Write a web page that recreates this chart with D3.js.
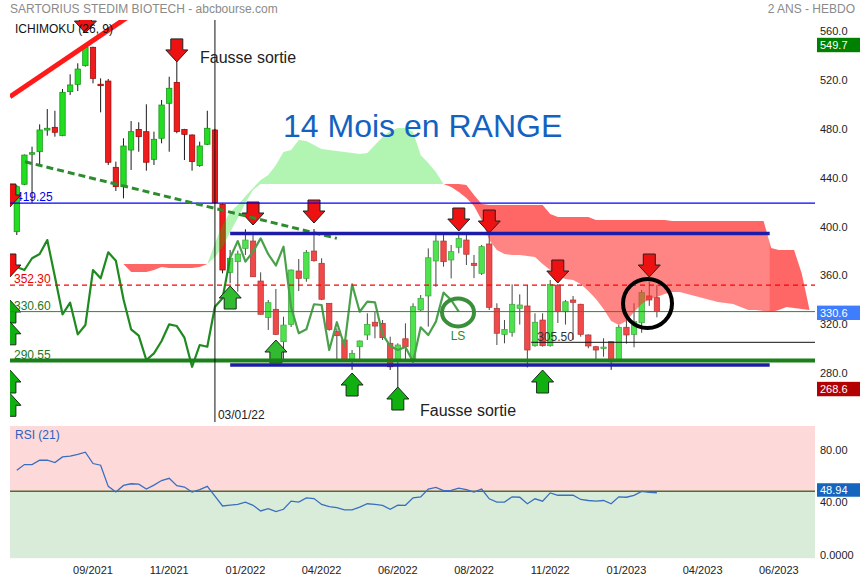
<!DOCTYPE html>
<html><head><meta charset="utf-8">
<script src="https://cdn.jsdelivr.net/npm/d3@7"></script>
<style>body{margin:0;background:#fff;} svg{display:block;font-family:Arial,"Liberation Sans",sans-serif;}</style>
</head><body>
<svg id="c" width="860" height="580"></svg>
<script>
// ---- DATA (weekly candles, index 0 = first visible week) ----
const opens = [395.9,434.7,460,461.3,479,481.3,474.4,510.4,516.4,531.6,
546.7,516.5,519.1,448.6,432.7,462.7,479.6,477.7,455.1,472.3,
500.9,518,479.6,475,449.9,467.4,479.1,418.3,362.7,371.4,
382.3,388.3,355.6,325.9,332.5,306,320.2,363.8,357.8,380.1,
370.1,337.4,314.2,307.4,291,301.9,311.5,321.9,321,304.7,
291,308.4,291,331.9,343.4,372,388.3,372.8,383.2,389.1,
370.1,361.9,385.9,333.3,312,313.7,333.3,335.2,302.7,323.7,
302.7,352.3,330.5,340.1,336.6,311.5,301.9,301.4,306,291,
317.8,312,321.5,343.4,342];
const highs = [434,459,465.4,483.7,496.2,494.8,512.6,524.6,533.6,549.7,
547.2,521.3,520.8,453.2,472.3,486.4,485.4,500.1,477.7,503.6,
522.6,535.5,480,475.5,469.5,494.8,480,419,381,380.4,
397.9,393.2,362.7,340.1,349.1,326.4,365,373.6,380.9,398.1,
374.2,337.5,316.9,307.5,299.2,307,329.2,330.5,323.7,310.1,
304.7,321,337.4,344.2,382.3,393.2,393.2,385.1,393.2,393.2,
376.9,385.1,394.6,337.4,323.7,352.9,344.7,352.3,329.2,329.2,
356.4,353,340.1,343.4,337,312,302.5,308.8,306.2,319.6,
327.7,337.4,348.3,355,352.3];
const lows = [393.2,434,419.4,450.5,474.4,473.6,474,507.7,510.9,531,
517.2,493.5,450.5,429.2,423.2,446.4,461.3,445.8,450.5,468.2,
461.3,476.4,454.5,445.8,449,466.8,419,361.9,353.7,346.9,
376.9,359,328,315.6,311.5,291,318,347.4,355,371.4,
340,315,291,290,283,291,307.4,308.8,307.4,282.9,
268.6,291,290,331,318.3,350.9,367.3,357.8,378.3,368.7,
358,360.5,331.9,303.3,304.7,310.1,320,285,301.9,302,
302,321.3,320,307.4,310.1,300.6,291,293.7,283,290,
304.4,301.4,313.3,335.3,325.9];
const closes = [432.7,458.6,460.5,479.1,480.5,477.2,509.9,515.9,528.9,546.7,
521.3,515.5,452.7,432.7,466,477.7,473.6,452.7,471.5,499.5,
513.2,477.7,475.5,453.2,466,480.5,419.6,364.6,374.2,377.7,
389.1,359.1,328.4,337.9,312,319.6,364.6,357.8,379.1,372.2,
340.7,316.1,310.9,291,296.5,306.6,320.2,318.8,309.3,285.5,
303.3,301.9,334.6,341.5,374.6,388.3,371.4,379.6,390.5,377.5,
368.3,383.7,334.1,312.9,316.1,336.6,336,299.2,321.9,302.7,
352.9,330.5,338.7,338.2,312,302.5,299.2,301.6,289.6,317.8,
311.5,322.4,346.1,340.1,330.6];
const rsi = [66.1,70.5,70.5,73.8,73.8,72,76.3,77,78.3,80,
71.3,70,53.8,49.5,54.5,55.8,55.5,51.8,54.8,58.3,
60,54.3,53.3,49.5,51.3,53.8,46.3,38.8,39.5,40,
41.8,39.3,35,36.8,34.5,36.3,42.5,41.8,45,44.5,
40,38.3,37.5,35.8,35.8,38,40.5,40,39.3,36.3,
39.5,39.3,45,45.8,51.8,53,50.5,50.8,52.5,51.3,
49.5,51.8,44.3,41.8,41.8,45.8,45.5,40.5,44.3,42.5,
48.8,47,47,47,43.8,43,42.5,43,40.5,45.8,
45.5,47,50,49.3,48.94];
// Ichimoku cloud (Senkou spans, already projected), starting at week 14
const senkouStart = 14;
const senkouA = [369.5,363,363,363,364.6,367.1,366.2,366.2,366.2,366.2,
367,369.5,386.7,401.4,412,417.7,425,431.6,438.2,442.3,
450.5,461.1,462.7,470.9,470,466.8,463.5,462.7,461.9,461.1,
460.3,459.4,460.3,466.8,473.3,478.2,480.7,480.7,477.4,458.6,
452.1,444.7,434.9,432.5,428.4,423.5,416.9,405.5,389.1,381,
377.7,376.9,376.9,376.1,375.2,369.5,364.6,359.7,357.3,356.4,
353.2,347.4,340.9,332.7,322.9,319.6,322.9,330.3,336.8,340.9,
342.5,345,346.6,346.6,345,343.4,341.7,340.1,338.4,337.6,
336.8,334.4,331.9,331.9,331.1,330.3,331.9,334.4,333.5,332.7,
331.9];
const senkouB = [369.5,369.5,369.5,369.5,369.5,369.5,369.5,369.5,369.5,369.5,
369.5,369.5,375.2,383.4,395.7,407.1,419.4,430,434.9,434.9,
434.9,434.9,434.9,434.9,434.9,434.9,434.9,434.9,434.9,434.9,
434.9,434.9,434.9,434.9,434.9,434.9,434.9,434.9,434.9,434.9,
434.9,434.9,434.9,434.9,434.9,434.1,425.9,418.6,417.7,417.7,
417.7,417.7,417.7,417.7,417.7,417.7,410.4,407.9,407.9,407.9,
407.9,407.9,405.5,405.5,405.5,405.5,405.5,405.5,405.5,405.5,
405.5,405.5,404.7,404.7,404.7,404.7,404.7,404.7,404.7,404.7,
404.7,404.7,404.7,404.7,404.7,382.6,381,381,381,362,
333];
// Chikou (lagging close), starts one week before the first candle
const chikouStart = -1;
const chikou = [365, 367].concat(closes.slice(27));
// axes
const dateTickWeeks = [10,20,30,40,50,60,70,80,90,100];
const dateTickLabels = ["09/2021","11/2021","01/2022","04/2022","06/2022","08/2022","11/2022","01/2023","04/2023","06/2023"];
const priceTicks = [560,520,480,440,400,360,320,280];
const rsiTicks = [80,40,0];
const rsiTickLabels = ["80.00","40.00","0.0000"];
// annotation values
const sellArrowWeeks = [9,21,31,39,58,62,71,83,-0.9,-0.9];
const sellArrowPrices = [558.4,534.7,401.4,403,396.5,394.9,354,358.9,416.1,358.9];
const buyArrowWeeks = [28,34,44,50,69,-0.9,-0.9,-0.9,-0.9];
const buyArrowPrices = [351.5,307.4,280.4,269,282.9,340.1,322.3,282.9,263.8];
const rangeTop = 394.4, rangeBottom = 286.9, rangeFrom = 28, rangeTo = 98.8;
const markerWeek = 26, markerLabel = "03/01/22";

// ---- SCALES ----
const svg = d3.select("#c");
const L = 10, R = 815, mainT = 20, mainB = 422;
const x = d3.scaleLinear().domain([0, 84]).range([16.8, 656.9]);
const y = d3.scaleLinear().domain([280, 560]).range([373.5, 31]);
const yr = d3.scaleLinear().domain([0, 100]).range([556.7, 426]);

const defs = svg.append("defs");
defs.append("clipPath").attr("id","cm").append("rect").attr("x",L).attr("y",mainT).attr("width",R-L).attr("height",mainB-mainT);
defs.append("clipPath").attr("id","cr").append("rect").attr("x",0).attr("y",420).attr("width",860).attr("height",140);

// header
svg.append("text").attr("x",10).attr("y",13).attr("font-size",12).attr("fill","#8a8a8a").text("SARTORIUS STEDIM BIOTECH - abcbourse.com");
svg.append("text").attr("x",855).attr("y",13).attr("text-anchor","end").attr("font-size",12).attr("fill","#8a8a8a").text("2 ANS - HEBDO");

const main = svg.append("g").attr("clip-path","url(#cm)");

// level labels (under arrows)
const lvl = main.append("g").attr("font-size",12);
lvl.append("text").attr("x",16).attr("y",y(419.25)-2).attr("fill","#0000ee").text("419.25");
lvl.append("text").attr("x",14).attr("y",y(352.30)-2).attr("fill","#ee0000").text("352.30");
lvl.append("text").attr("x",14).attr("y",y(330.60)-2).attr("fill","#227722").text("330.60");
lvl.append("text").attr("x",14).attr("y",y(290.55)-2).attr("fill","#227722").text("290.55");

// candles
const candles = closes.map((c,i)=>({i,o:opens[i],h:highs[i],l:lows[i],c}));
const cg = main.append("g");
cg.selectAll("line").data(candles).join("line")
  .attr("x1",d=>x(d.i)).attr("x2",d=>x(d.i))
  .attr("y1",d=>y(d.h)).attr("y2",d=>y(d.l))
  .attr("stroke","#1a1a1a").attr("stroke-width",1);
cg.selectAll("rect").data(candles).join("rect")
  .attr("x",d=>x(d.i)-2.7).attr("width",5.4)
  .attr("y",d=>y(Math.max(d.o,d.c)))
  .attr("height",d=>Math.max(1.5,Math.abs(y(d.o)-y(d.c))))
  .attr("fill",d=>d.c>=d.o?"#22dd22":"#ee1c1c")
  .attr("stroke",d=>d.c>=d.o?"#0d8f0d":"#9a0000").attr("stroke-width",0.7);

// chikou
main.append("path").datum(chikou.map((v,k)=>[chikouStart+k,v]))
  .attr("d",d3.line().x(d=>x(d[0])).y(d=>y(d[1])))
  .attr("fill","none").attr("stroke","#1f8a1f").attr("stroke-width",2.2).attr("stroke-linejoin","round");

// cloud
const cloud = senkouA.map((a,k)=>({i:senkouStart+k,a,b:senkouB[k]}));
main.append("path").datum(cloud)
  .attr("d",d3.area().x(d=>x(d.i)).y0(d=>y(d.b)).y1(d=>y(Math.max(d.a,d.b))))
  .attr("fill","rgba(0,220,0,0.3)");
main.append("path").datum(cloud)
  .attr("d",d3.area().x(d=>x(d.i)).y0(d=>y(d.a)).y1(d=>y(Math.max(d.a,d.b))))
  .attr("fill","rgba(255,0,0,0.6)");

// range box veil
main.append("rect").attr("x",x(rangeFrom)).attr("width",x(rangeTo)-x(rangeFrom))
  .attr("y",y(rangeTop)).attr("height",y(rangeBottom)-y(rangeTop))
  .attr("fill","rgba(255,255,255,0.2)");

// arrows
function arrowPath(px,py,down){
  const s = down ? -1 : 1;
  const p = [[px,py],[px+11,py+12*s],[px+6,py+12*s],[px+6,py+23*s],[px-6,py+23*s],[px-6,py+12*s],[px-11,py+12*s]];
  return "M"+p.map(q=>q[0].toFixed(1)+","+q[1].toFixed(1)).join("L")+"Z";
}
const ag = main.append("g");
ag.selectAll("path.sell").data(sellArrowWeeks.map((w,k)=>[w,sellArrowPrices[k]])).join("path")
  .attr("class","sell").attr("d",d=>arrowPath(x(d[0]),y(d[1]),true))
  .attr("fill","#ee1111").attr("stroke","#222").attr("stroke-width",1);
ag.selectAll("path.buy").data(buyArrowWeeks.map((w,k)=>[w,buyArrowPrices[k]])).join("path")
  .attr("class","buy").attr("d",d=>arrowPath(x(d[0]),y(d[1]),false))
  .attr("fill",d=>(d[1]<rangeTop&&d[1]>rangeBottom&&d[0]>=rangeFrom)?"#30bb30":"#10b010")
  .attr("stroke","#1a2a1a").attr("stroke-width",1);

// horizontal levels
const hl = (v,col,w,dash,x0)=>main.append("line").attr("x1",x0==null?L:x0).attr("x2",R)
  .attr("y1",y(v)).attr("y2",y(v)).attr("stroke",col).attr("stroke-width",w).attr("stroke-dasharray",dash||null);
hl(419.25,"#0000ff",1.2);
hl(352.30,"#ff0000",1.2,"5,4");
hl(330.60,"#2a8a2a",1);
hl(305.50,"#111",1,null,x(67.5));
hl(290.55,"#1a801a",4);
main.append("text").attr("x",x(67.5)+6).attr("y",y(305.5)-1).attr("font-size",12).attr("fill","#333").text("305.50");

// trend lines
main.append("line").attr("x1",x(-0.9)).attr("y1",y(506.3)).attr("x2",x(14.5)).attr("y2",y(571.2))
  .attr("stroke","#ff1a1a").attr("stroke-width",5);
main.append("line").attr("x1",x(1.08)).attr("y1",y(453.1)).attr("x2",x(42)).attr("y2",y(390.5))
  .attr("stroke","#2e8b2e").attr("stroke-width",3).attr("stroke-dasharray","7,4");

// range box lines
[rangeTop, rangeBottom].forEach(v=>{
  main.append("line").attr("x1",x(rangeFrom)).attr("x2",x(rangeTo)).attr("y1",y(v)).attr("y2",y(v))
    .attr("stroke","#1c1ca8").attr("stroke-width",3.5);
});

// vertical date marker
main.append("line").attr("x1",x(markerWeek)).attr("x2",x(markerWeek)).attr("y1",mainT).attr("y2",mainB)
  .attr("stroke","#111").attr("stroke-width",1);
main.append("text").attr("x",x(markerWeek)+3).attr("y",419).attr("font-size",12).attr("fill","#222").text(markerLabel);

// circles
main.append("ellipse").attr("cx",x(57.9)).attr("cy",y(329.9)).attr("rx",16).attr("ry",14)
  .attr("fill","none").attr("stroke","#3a8f3a").attr("stroke-width",4);
main.append("text").attr("x",x(57.9)).attr("y",340).attr("text-anchor","middle").attr("font-size",12).attr("fill","#2a8a2a").text("LS");
main.append("circle").attr("cx",x(82.77)).attr("cy",y(337.2)).attr("r",24.5)
  .attr("fill","none").attr("stroke","#000").attr("stroke-width",4);

// annotations
svg.append("text").attr("x",200).attr("y",63).attr("font-size",16).attr("fill","#222").text("Fausse sortie");
svg.append("text").attr("x",420).attr("y",416).attr("font-size",16).attr("fill","#222").text("Fausse sortie");
svg.append("text").attr("x",283).attr("y",137).attr("font-size",32).attr("fill","#1462c0").text("14 Mois en RANGE");
svg.append("text").attr("x",15).attr("y",33).attr("font-size",12).attr("fill","#111").text("ICHIMOKU (26, 9)");

// right price axis
svg.append("g").selectAll("text").data(priceTicks).join("text")
  .attr("x",820).attr("y",d=>y(d)).attr("dy","0.35em").attr("font-size",11).attr("fill","#222")
  .text(d=>d3.format(".1f")(d));
function tag(v,col,yy){
  svg.append("rect").attr("x",817).attr("y",yy-7.2).attr("width",43).attr("height",14.4).attr("fill",col);
  svg.append("text").attr("x",820).attr("y",yy).attr("dy","0.36em").attr("font-size",11).attr("fill","#fff").text(v);
}
tag(d3.max(highs).toFixed(1),"#008000",y(d3.max(highs))+1.4);
tag(closes[closes.length-1].toFixed(1),"#3f7dff",y(closes[closes.length-1])+1.2);
tag(d3.min(lows).toFixed(1),"#b30000",y(d3.min(lows))+1.6);

// ---- RSI panel ----
const rp = svg.append("g");
rp.append("rect").attr("x",L).attr("width",R-L).attr("y",yr(100)).attr("height",yr(50)-yr(100)).attr("fill","#fdd9d9");
rp.append("rect").attr("x",L).attr("width",R-L).attr("y",yr(50)).attr("height",yr(0)-yr(50)+1.5).attr("fill","#d9ecd9");
rp.append("line").attr("x1",L).attr("x2",R).attr("y1",yr(50)).attr("y2",yr(50)).attr("stroke","#5a6a30").attr("stroke-width",1.5);
rp.append("path").datum(rsi).attr("d",d3.line().x((d,i)=>x(i)).y(d=>yr(d)))
  .attr("fill","none").attr("stroke","#3a6fc0").attr("stroke-width",1.3);
rp.append("text").attr("x",15).attr("y",439).attr("font-size",12).attr("fill","#2a62c0").text("RSI (21)");
const rl = svg.append("g").attr("clip-path","url(#cr)");
rl.selectAll("text").data(rsiTicks).join("text")
  .attr("x",820).attr("y",d=>yr(d)-2).attr("dy","0.35em").attr("font-size",11).attr("fill","#222")
  .text((d,k)=>rsiTickLabels[k]);
svg.append("rect").attr("x",817).attr("y",yr(rsi[rsi.length-1])-9.5).attr("width",43).attr("height",13.5).attr("fill","#1565c0");
svg.append("text").attr("x",820).attr("y",yr(rsi[rsi.length-1])-2.8).attr("dy","0.35em").attr("font-size",11).attr("fill","#fff").text(rsi[rsi.length-1].toFixed(2));

// date axis
svg.append("g").selectAll("text").data(dateTickWeeks).join("text")
  .attr("x",d=>x(d)).attr("y",574).attr("text-anchor","middle").attr("font-size",11).attr("fill","#222")
  .text((d,k)=>dateTickLabels[k]);
</script>
</body></html>
